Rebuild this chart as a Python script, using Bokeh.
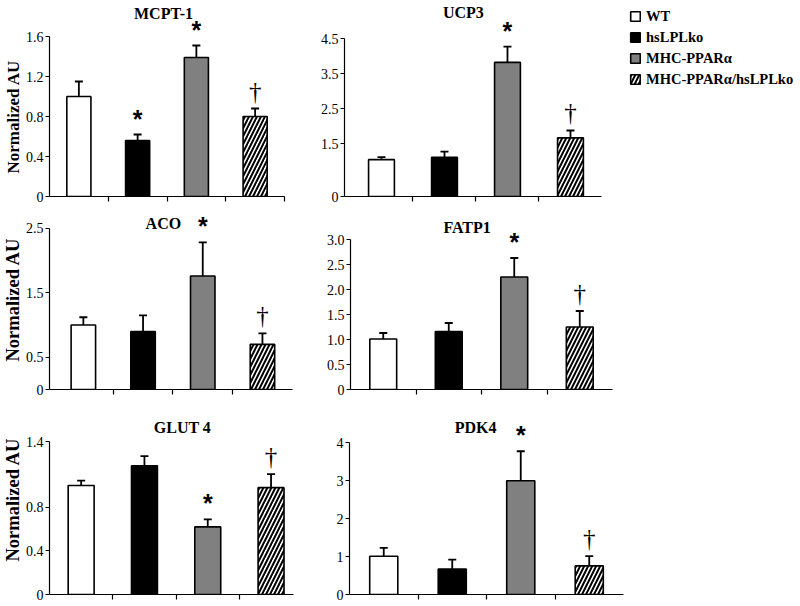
from bokeh.plotting import figure
from bokeh.models import (ColumnDataSource, Range1d, FixedTicker, Whisker, TeeHead,
                          Legend, LegendItem, Title)
from bokeh.layouts import column, row
from bokeh.embed import file_html
from bokeh.resources import INLINE
from bokeh.core.properties import value

# ---------------- data ----------------
groups = ["WT", "hsLPLko", "MHC-PPARα", "MHC-PPARα/hsLPLko"]
group_fill = ["white", "black", "#808080", "white"]
group_hatch = [" ", " ", " ", "/"]

mcpt1_mean = [1.00, 0.56, 1.39, 0.80]
mcpt1_upper = [1.15, 0.62, 1.51, 0.88]
mcpt1_sig = ["", "*", "*", "†"]
mcpt1_ticks = [0, 0.4, 0.8, 1.2, 1.6]
mcpt1_labels = ["0", "0.4", "0.8", "1.2", "1.6"]

ucp3_mean = [1.05, 1.12, 3.82, 1.67]
ucp3_upper = [1.12, 1.28, 4.27, 1.88]
ucp3_sig = ["", "", "*", "†"]
ucp3_ticks = [0, 1.5, 2.5, 3.5, 4.5]
ucp3_labels = ["0", "1.5", "2.5", "3.5", "4.5"]

aco_mean = [1.00, 0.90, 1.76, 0.70]
aco_upper = [1.12, 1.15, 2.28, 0.87]
aco_sig = ["", "", "*", "†"]
aco_ticks = [0, 0.5, 1.5, 2.5]
aco_labels = ["0", "0.5", "1.5", "2.5"]

fatp1_mean = [1.01, 1.16, 2.25, 1.25]
fatp1_upper = [1.13, 1.33, 2.63, 1.57]
fatp1_sig = ["", "", "*", "†"]
fatp1_ticks = [0, 0.5, 1.0, 1.5, 2.0, 2.5, 3.0]
fatp1_labels = ["0", "0.5", "1.0", "1.5", "2.0", "2.5", "3.0"]

glut4_mean = [1.00, 1.18, 0.62, 0.98]
glut4_upper = [1.045, 1.27, 0.69, 1.105]
glut4_sig = ["", "", "*", "†"]
glut4_ticks = [0, 0.4, 0.8, 1.4]
glut4_labels = ["0", "0.4", "0.8", "1.4"]

pdk4_mean = [1.01, 0.67, 3.00, 0.755]
pdk4_upper = [1.23, 0.92, 3.78, 1.01]
pdk4_sig = ["", "", "*", "†"]
pdk4_ticks = [0, 1, 2, 3, 4]
pdk4_labels = ["0", "1", "2", "3", "4"]

# ---------------- layout / style ----------------
SERIF = "Liberation Serif"


def panel(name, mean, upper, sig, ticks, labels, g, legend=None):
    W, H = g["w"], g["h"]
    fw = W - g["left"] - g["right"]
    fh = H - g["bottom"]
    x_end = g["xs"] + fw / g["px"]
    y_end = fh / g["ypx"]
    p = figure(width=W, height=H, output_backend="svg", toolbar_location=None,
               x_range=Range1d(g["xs"], x_end), y_range=Range1d(0, y_end),
               min_border_left=g["left"], min_border_right=g["right"],
               min_border_top=0, min_border_bottom=g["bottom"])
    p.outline_line_color = None
    p.xgrid.visible = False
    p.ygrid.visible = False

    xc = [i + 0.5 for i in range(len(mean))]
    src = ColumnDataSource(dict(x=xc, top=mean, upper=upper, group=groups,
                                fill=group_fill, hatch=group_hatch))
    r = p.vbar(x="x", top="top", width=0.41, source=src, fill_color="fill",
               line_color="black", line_width=1.6, hatch_pattern="hatch",
               hatch_color="black", hatch_weight=2.0, hatch_scale=8)
    p.add_layout(Whisker(source=src, base="x", upper="upper", lower="top",
                         dimension="height", line_width=1.8, line_color="black",
                         upper_head=TeeHead(size=8, line_width=1.8, line_color="black"),
                         lower_head=None))

    sx = [xc[i] for i in range(len(sig)) if sig[i] == "*"]
    sy = [upper[i] for i in range(len(sig)) if sig[i] == "*"]
    dx = [xc[i] for i in range(len(sig)) if sig[i] == "†"]
    dy = [upper[i] for i in range(len(sig)) if sig[i] == "†"]
    p.text(x=sx, y=sy, text=["*"] * len(sx), y_offset=-2,
           text_font=value("Liberation Sans"), text_font_style="bold",
           text_font_size="25px", text_align="center", text_baseline="bottom",
           text_color="black")
    p.text(x=dx, y=dy, text=["†"] * len(dx), y_offset=-4,
           text_font=value(SERIF), text_font_size="25px",
           text_align="center", text_baseline="bottom", text_color="black")

    p.text(x=[g["tx"]], y=[0], text=[name], y_offset=-g["tup"],
           text_font=value(SERIF), text_font_style="bold", text_font_size="16px",
           text_align="center", text_baseline="middle", text_color="black")

    # axes
    xa = p.xaxis[0]
    xa.ticker = FixedTicker(ticks=g["xticks"])
    xa.major_label_overrides = {t: "" for t in g["xticks"]}
    xa.major_label_standoff = 0
    xa.major_tick_in = 0
    xa.major_tick_out = 5
    xa.minor_tick_line_color = None
    xa.bounds = (g["xs"], g["xb"])
    xa.axis_line_color = "black"
    xa.axis_line_width = 1.2
    xa.major_tick_line_width = 1.2

    ya = p.yaxis[0]
    ya.ticker = FixedTicker(ticks=ticks)
    ya.major_label_overrides = {t: l for t, l in zip(ticks, labels)}
    ya.bounds = (0, ticks[-1])
    ya.major_tick_in = 0
    ya.major_tick_out = 4
    ya.minor_tick_line_color = None
    ya.major_label_standoff = 2
    ya.major_label_text_font = SERIF
    ya.major_label_text_font_size = "14px"
    ya.major_label_text_color = "black"
    ya.axis_line_color = "black"
    ya.axis_line_width = 1.2
    ya.major_tick_line_width = 1.2

    if "yl_off" in g:
        p.add_layout(Title(text="Normalized AU", align="left", offset=g["yl_off"],
                           standoff=0, text_font=SERIF, text_font_style="bold",
                           text_font_size=g["yl_fs"], text_color="black"), "left")

    if legend is not None:
        items = [LegendItem(label=grp, renderers=[r], index=i) for i, grp in enumerate(groups)]
        leg = Legend(items=items, location=legend, padding=0, margin=0, spacing=3,
                     glyph_width=12, glyph_height=12, label_height=18, label_standoff=5,
                     label_text_font=SERIF, label_text_font_style="bold",
                     label_text_font_size="14.5px", label_text_color="black",
                     border_line_color=None, background_fill_alpha=0)
        p.add_layout(leg)
    return p


G1 = dict(w=300, h=205, left=49, right=4, bottom=9, xs=0.0, px=58.75, ypx=100.0,
          xb=4.0, xticks=[1, 2, 3, 4], tx=1.94, tup=183.5, yl_off=23, yl_fs="17px")
G2 = dict(w=500, h=205, left=44, right=0, bottom=9, xs=-0.087, px=63.0, ypx=35.11,
          xb=4.0, xticks=[1, 2, 3], tx=1.80, tup=184)
G3 = dict(w=300, h=195, left=49, right=4, bottom=9, xs=-0.067, px=59.7, ypx=65.2,
          xb=4.0, xticks=[1, 2, 3], tx=1.84, tup=166, yl_off=28, yl_fs="18.5px")
G4 = dict(w=340, h=195, left=50, right=0, bottom=11, xs=0.0, px=65.5, ypx=50.0,
          xb=4.0, xticks=[1, 2, 3], tx=1.78, tup=162)
G5 = dict(w=300, h=205, left=49, right=0, bottom=8, xs=0.0, px=63.3, ypx=110.7,
          xb=3.85, xticks=[1, 2, 3], tx=2.10, tup=167, yl_off=33, yl_fs="18.5px")
G6 = dict(w=340, h=205, left=49, right=0, bottom=11, xs=0.0, px=68.5, ypx=37.9,
          xb=4.0, xticks=[1, 2, 3], tx=1.84, tup=167.3)

p1 = panel("MCPT-1", mcpt1_mean, mcpt1_upper, mcpt1_sig, mcpt1_ticks, mcpt1_labels, G1)
p2 = panel("UCP3", ucp3_mean, ucp3_upper, ucp3_sig, ucp3_ticks, ucp3_labels, G2, legend=(285, 108))
p3 = panel("ACO", aco_mean, aco_upper, aco_sig, aco_ticks, aco_labels, G3)
p4 = panel("FATP1", fatp1_mean, fatp1_upper, fatp1_sig, fatp1_ticks, fatp1_labels, G4)
p5 = panel("GLUT 4", glut4_mean, glut4_upper, glut4_sig, glut4_ticks, glut4_labels, G5)
p6 = panel("PDK4", pdk4_mean, pdk4_upper, pdk4_sig, pdk4_ticks, pdk4_labels, G6)

layout = column(row(p1, p2), row(p3, p4), row(p5, p6))
open("out.html", "w").write(file_html(layout, INLINE))
